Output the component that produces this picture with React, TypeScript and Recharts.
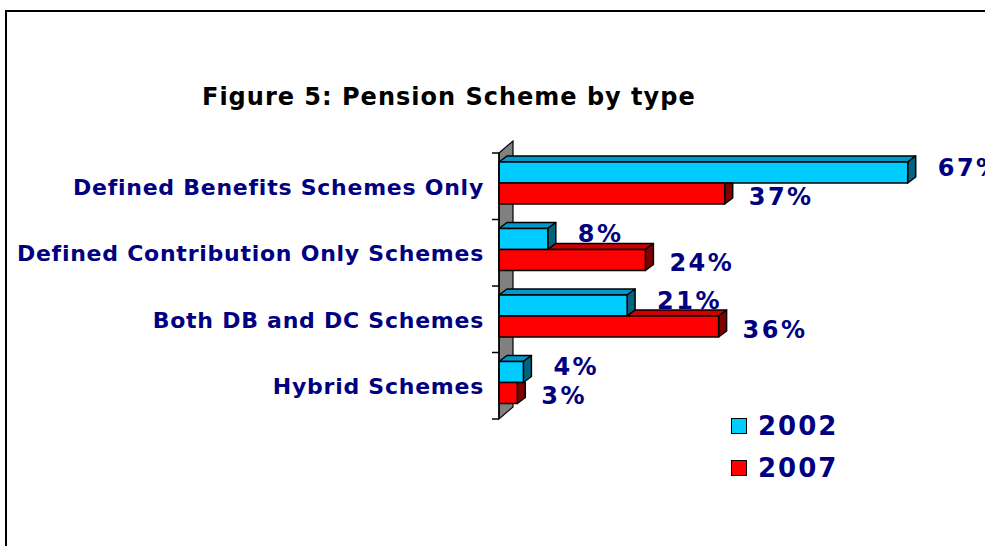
import { BarChart, Bar, XAxis, YAxis, LabelList, Legend, ReferenceArea } from 'recharts';

const categories = [
  'Defined Benefits Schemes Only',
  'Defined Contribution Only Schemes',
  'Both DB and DC Schemes',
  'Hybrid Schemes',
];
const values2002 = [67, 8, 21, 4];
const values2007 = [37, 24, 36, 3];
const seriesNames = ['2002', '2007'];

const data = categories.map((name, i) => ({
  name,
  y2002: values2002[i],
  y2007: values2007[i],
}));

const W = 985;
const H = 546;
const AXIS_X = 499;
const PLOT_TOP = 153;
const PLOT_H = 266;
const X_MAX = 70;
const PLOT_W = 427;

// 3d look
const DX = 8;
const DY = 6;
const LIFT = 3;
const NAVY = '#000080';
const FONT = '"DejaVu Sans", Verdana, sans-serif';

const blue = { front: '#00CCFF', top: '#0099CC', side: '#006680' };
const red = { front: '#FF0000', top: '#CC0000', side: '#800000' };

function makeShape(ownKey: string, colors: typeof blue, coverKey?: string) {
  return (props: any) => {
    const { x, y, width, height, payload } = props;
    if (!width || width <= 0) return <g />;
    const top = y - LIFT;
    const bottom = top + height;
    const right = x + width;
    let coverW = 0;
    if (coverKey) coverW = (width * payload[coverKey]) / payload[ownKey];
    const covered = coverW >= width;
    const topStart = x + Math.min(coverW, width);
    const sideTop = covered ? `${right},${top} ${right + DX},${top}` : `${right},${top} ${right + DX},${top - DY}`;
    const stroke = { stroke: '#000', strokeWidth: 1.5, strokeLinejoin: 'round' as const };
    return (
      <g>
        {!covered && (
          <polygon
            points={`${topStart},${top} ${topStart + DX},${top - DY} ${right + DX},${top - DY} ${right},${top}`}
            fill={colors.top}
            {...stroke}
          />
        )}
        <polygon
          points={`${sideTop} ${right + DX},${bottom - DY} ${right},${bottom}`}
          fill={colors.side}
          {...stroke}
        />
        <rect x={x} y={top} width={width} height={height} fill={colors.front} {...stroke} />
      </g>
    );
  };
}

function makeLabel(dx: number, dy: number) {
  return (p: any) => {
    const vb = p.viewBox ?? p;
    const x = vb.x ?? p.x;
    const y = vb.y ?? p.y;
    const width = vb.width ?? p.width;
    const height = vb.height ?? p.height;
    return (
      <text
        x={x + width + DX + dx}
        y={y - LIFT + height / 2 + dy}
        dominantBaseline="central"
        fill={NAVY}
        fontFamily={FONT}
        fontWeight="bold"
        fontSize={24}
        letterSpacing={2.5}
      >
        {p.value}%
      </text>
    );
  };
}

function CategoryTick(props: any) {
  const { y, payload, index } = props;
  const band = PLOT_H / categories.length;
  const line = { stroke: '#000', strokeWidth: 1.5 };
  return (
    <g>
      <line x1={AXIS_X - 7} x2={AXIS_X} y1={y - band / 2} y2={y - band / 2} {...line} />
      {index === categories.length - 1 && (
        <line x1={AXIS_X - 7} x2={AXIS_X} y1={y + band / 2} y2={y + band / 2} {...line} />
      )}
      <text
        x={AXIS_X - 15}
        y={y + 1}
        textAnchor="end"
        dominantBaseline="central"
        fill={NAVY}
        fontFamily={FONT}
        fontWeight="bold"
        fontSize={22}
        letterSpacing={0.75}
      >
        {payload.value}
      </text>
    </g>
  );
}

function Wall(props: any) {
  const { x, y, height } = props;
  return (
    <polygon
      points={`${x},${y} ${x + 14},${y - 12} ${x + 14},${y + height - 12} ${x},${y + height}`}
      fill="#808080"
      stroke="#000"
      strokeWidth={1.2}
    />
  );
}

function LegendBox({ payload }: any) {
  return (
    <div>
      {(payload ?? []).map((e: any) => (
        <div key={e.value} style={{ display: 'flex', alignItems: 'center', height: 42 }}>
          <span
            style={{
              display: 'inline-block',
              width: 14,
              height: 14,
              background: e.color,
              border: '1.5px solid #000',
            }}
          />
          <span
            style={{
              marginLeft: 11,
              color: NAVY,
              fontFamily: FONT,
              fontWeight: 'bold',
              fontSize: 26,
              letterSpacing: 2,
            }}
          >
            {e.value}
          </span>
        </div>
      ))}
    </div>
  );
}

export default function App() {
  return (
    <div
      style={{
        position: 'absolute',
        left: 0,
        top: 0,
        width: W,
        height: H,
        overflow: 'hidden',
        background: '#fff',
      }}
    >
      <div
        style={{
          position: 'absolute',
          left: 5,
          top: 10,
          width: 1100,
          height: 700,
          border: '2px solid #000',
        }}
      />
      <div
        style={{
          position: 'absolute',
          left: 202,
          top: 83,
          fontFamily: FONT,
          fontWeight: 'bold',
          fontSize: 24,
          letterSpacing: 1,
          color: '#000',
          whiteSpace: 'nowrap',
        }}
      >
        Figure 5: Pension Scheme by type
      </div>
      <div style={{ position: 'absolute', left: 0, top: 0 }}>
        <BarChart
          width={W}
          height={H}
          data={data}
          layout="vertical"
          margin={{ top: PLOT_TOP, right: W - AXIS_X - PLOT_W, bottom: H - PLOT_TOP - PLOT_H, left: 0 }}
          barCategoryGap={12}
          barGap={0}
        >
          <XAxis type="number" domain={[0, X_MAX]} hide />
          <YAxis
            type="category"
            dataKey="name"
            width={AXIS_X}
            axisLine={{ stroke: '#000', strokeWidth: 1.5 }}
            tickLine={false}
            tick={<CategoryTick />}
            interval={0}
          />
          <ReferenceArea x1={0} x2={1} shape={<Wall />} ifOverflow="visible" />
          <Bar
            dataKey="y2002"
            name={seriesNames[0]}
            fill={blue.front}
            shape={makeShape('y2002', blue)}
            isAnimationActive={false}
          >
            <LabelList dataKey="y2002" content={makeLabel(22, -5)} />
          </Bar>
          <Bar
            dataKey="y2007"
            name={seriesNames[1]}
            fill={red.front}
            shape={makeShape('y2007', red, 'y2002')}
            isAnimationActive={false}
          >
            <LabelList dataKey="y2007" content={makeLabel(16, 3)} />
          </Bar>
          <Legend
            layout="vertical"
            align="center"
            verticalAlign="middle"
            content={<LegendBox />}
            wrapperStyle={{ left: 731, top: 405, width: 'auto', height: 'auto' }}
          />
        </BarChart>
      </div>
    </div>
  );
}
